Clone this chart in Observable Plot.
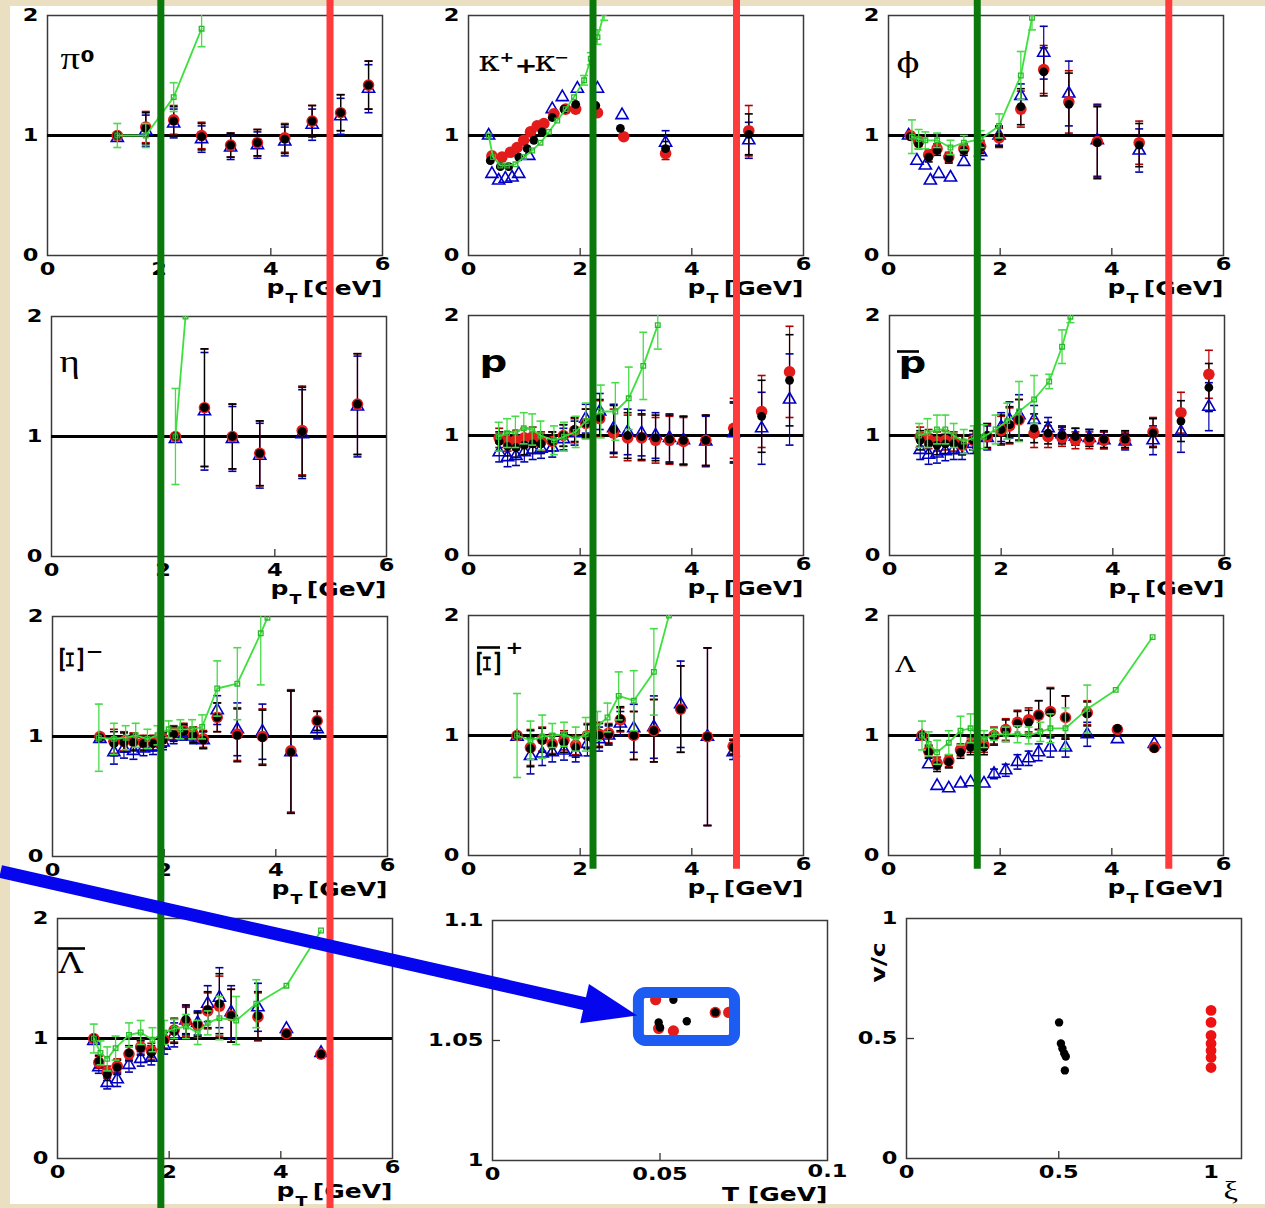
<!DOCTYPE html>
<html>
<head>
<meta charset="utf-8">
<script src="https://cdn.jsdelivr.net/npm/d3@7"></script>
<script src="https://cdn.jsdelivr.net/npm/@observablehq/plot@0.6"></script>
<style>
  html, body { margin: 0; padding: 0; background: #ebdfc1; }
  #page { position: relative; width: 1265px; height: 1208px; overflow: hidden; background: #ebdfc1; }
  #sheet { position: absolute; left: 10px; top: 6px; width: 1255px; height: 1198px; background: #fff; }
  #page svg { position: absolute; max-width: none; }
</style>
</head>
<body>
<div id="page"><div id="sheet"></div></div>
<script>
// ---------- π0 ----------
const pi0Pt = [1.25, 1.76, 2.26, 2.76, 3.28, 3.76, 4.25, 4.74, 5.25, 5.75];
const pi0Black = [1.0, 1.06, 1.12, 0.99, 0.92, 0.94, 0.97, 1.12, 1.19, 1.42];
const pi0Red = [1.0, 1.07, 1.13, 1.0, 0.92, 0.94, 0.98, 1.12, 1.19, 1.42];
const pi0Blue = [0.98, 1.04, 1.1, 0.97, 0.9, 0.92, 0.95, 1.09, 1.16, 1.39];
const pi0Err = [0.02, 0.13, 0.12, 0.11, 0.1, 0.11, 0.12, 0.13, 0.15, 0.2];
const pi0GreenPt = [1.25, 1.76, 2.26, 2.76];
const pi0Green = [1.0, 1.0, 1.32, 1.89];
const pi0GreenErr = [0.1, 0.1, 0.12, 0.15];

// ---------- K+ + K- ----------
const kaonBlackPt = [0.39, 0.57, 0.72, 0.9, 1.05, 1.17, 1.32, 1.5, 1.71, 1.92, 2.28, 2.72, 3.53, 5.02];
const kaonBlack = [0.79, 0.74, 0.74, 0.82, 0.89, 0.96, 1.03, 1.15, 1.22, 1.26, 1.25, 1.06, 0.89, 1.01];
const kaonBlackErr = [0.02, 0.02, 0.02, 0.02, 0.02, 0.02, 0.02, 0.02, 0.02, 0.02, 0.03, 0.03, 0.06, 0.17];
const kaonRedPt = [0.42, 0.6, 0.75, 0.87, 0.99, 1.11, 1.23, 1.35, 1.53, 1.74, 1.92, 2.31, 2.78, 3.53, 5.02];
const kaonRed = [0.83, 0.82, 0.86, 0.9, 0.96, 1.03, 1.08, 1.1, 1.18, 1.22, 1.22, 1.19, 0.99, 0.85, 1.04];
const kaonRedErr = [0.02, 0.02, 0.02, 0.02, 0.02, 0.02, 0.02, 0.02, 0.02, 0.02, 0.02, 0.03, 0.03, 0.05, 0.21];
const kaonBluePt = [0.36, 0.42, 0.54, 0.66, 0.78, 0.9, 1.08, 1.5, 1.68, 1.95, 2.31, 2.75, 3.53, 5.02];
const kaonBlue = [1.0, 0.68, 0.625, 0.64, 0.65, 0.68, 0.83, 1.22, 1.32, 1.39, 1.39, 1.17, 0.94, 0.96];
const kaonBlueErr = [0.02, 0.02, 0.02, 0.02, 0.02, 0.02, 0.02, 0.02, 0.02, 0.02, 0.02, 0.02, 0.1, 0.15];
const kaonGreenPt = [0.36, 0.44, 0.57, 0.69, 0.84, 0.99, 1.14, 1.29, 1.44, 1.59, 1.74, 1.89, 2.07, 2.19, 2.31, 2.43];
const kaonGreen = [1.0, 0.82, 0.75, 0.75, 0.76, 0.82, 0.875, 0.94, 1.03, 1.125, 1.22, 1.32, 1.46, 1.64, 1.82, 2.02];
const kaonGreenErr = [0.02, 0.02, 0.02, 0.02, 0.02, 0.02, 0.02, 0.02, 0.02, 0.03, 0.03, 0.03, 0.04, 0.05, 0.06, 0.06];

// ---------- phi ----------
const phiPt = [0.39, 0.54, 0.72, 0.87, 1.08, 1.35, 1.65, 1.98, 2.37, 2.78, 3.23, 3.74, 4.49];
const phiBlack = [0.99, 0.93, 0.82, 0.875, 0.81, 0.875, 0.9, 0.99, 1.24, 1.53, 1.26, 0.94, 0.92];
const phiRed = [1.0, 0.95, 0.84, 0.89, 0.82, 0.89, 0.91, 0.98, 1.22, 1.55, 1.28, 0.95, 0.94];
const phiErr = [0.03, 0.04, 0.04, 0.04, 0.04, 0.04, 0.05, 0.08, 0.15, 0.2, 0.26, 0.3, 0.18];
const phiBluePt = [0.36, 0.51, 0.66, 0.75, 0.9, 1.11, 1.35, 1.65, 1.98, 2.37, 2.78, 3.23, 3.74, 4.49];
const phiBlue = [1.0, 0.79, 0.75, 0.625, 0.68, 0.65, 0.78, 0.86, 1.0, 1.33, 1.69, 1.35, 0.96, 0.875];
const phiBlueErr = [0.02, 0.02, 0.02, 0.02, 0.02, 0.02, 0.03, 0.06, 0.08, 0.1, 0.22, 0.27, 0.3, 0.18];
const phiGreenPt = [0.42, 0.54, 0.66, 0.87, 1.11, 1.35, 1.65, 1.98, 2.37, 2.57];
const phiGreen = [0.99, 0.97, 0.96, 0.96, 0.9, 0.94, 0.97, 1.08, 1.5, 1.98];
const phiGreenErr = [0.14, 0.08, 0.07, 0.06, 0.06, 0.06, 0.07, 0.1, 0.2, 0.1];

// ---------- eta ----------
const etaPt = [2.22, 2.74, 3.24, 3.73, 4.49, 5.48];
const etaBlack = [1.0, 1.24, 1.0, 0.86, 1.04, 1.27];
const etaRed = [1.0, 1.24, 1.0, 0.86, 1.05, 1.27];
const etaBlue = [0.98, 1.21, 0.98, 0.84, 1.02, 1.25];
const etaErr = [0.02, 0.49, 0.27, 0.27, 0.37, 0.42];
const etaGreenPt = [2.22, 2.4];
const etaGreen = [1.0, 2.0];
const etaGreenErr = [0.4, 0];

// ---------- p ----------
const protPt = [0.55, 0.7, 0.85, 1.0, 1.15, 1.3, 1.5, 1.7, 1.9, 2.1, 2.35, 2.6, 2.85, 3.1, 3.35, 3.6, 3.85, 4.25, 4.75, 5.25, 5.75];
const protRed = [0.98, 0.95, 0.96, 0.98, 0.99, 0.95, 0.95, 1.0, 1.04, 1.1, 1.14, 1.02, 0.98, 0.98, 0.96, 0.96, 0.95, 0.96, 1.06, 1.2, 1.53];
const protBlack = [0.95, 0.91, 0.9, 0.92, 0.93, 0.93, 0.95, 1.0, 1.05, 1.1, 1.15, 1.05, 1.0, 0.99, 0.98, 0.97, 0.96, 0.96, 1.03, 1.16, 1.46];
const protBlue = [0.86, 0.82, 0.83, 0.86, 0.88, 0.89, 0.9, 0.97, 1.02, 1.14, 1.2, 1.06, 1.03, 1.02, 1.0, 0.98, 0.96, 0.95, 1.02, 1.06, 1.3];
const protErr = [0.08, 0.08, 0.08, 0.08, 0.08, 0.08, 0.08, 0.09, 0.1, 0.12, 0.15, 0.2, 0.19, 0.19, 0.19, 0.2, 0.2, 0.21, 0.25, 0.3, 0.38];
const protGreenPt = [0.54, 0.69, 0.84, 0.99, 1.14, 1.29, 1.53, 1.71, 1.92, 2.1, 2.37, 2.63, 2.87, 3.13, 3.39];
const protGreen = [0.99, 1.02, 1.03, 1.06, 1.05, 1.0, 0.96, 0.99, 1.03, 1.12, 1.2, 1.2, 1.31, 1.58, 1.92];
const protGreenErr = [0.12, 0.12, 0.13, 0.13, 0.13, 0.12, 0.12, 0.12, 0.13, 0.15, 0.22, 0.24, 0.26, 0.28, 0.2];

// ---------- anti-p ----------
const pbarPt = [0.55, 0.7, 0.85, 1.0, 1.15, 1.3, 1.5, 1.75, 2.0, 2.15, 2.32, 2.59, 2.84, 3.09, 3.33, 3.58, 3.84, 4.22, 4.72, 5.22, 5.72];
const pbarRed = [0.99, 0.97, 0.95, 0.96, 0.95, 0.92, 0.96, 0.99, 1.04, 1.08, 1.13, 1.02, 0.99, 0.98, 0.96, 0.96, 0.96, 0.96, 1.03, 1.19, 1.51];
const pbarBlack = [0.96, 0.93, 0.92, 0.93, 0.93, 0.92, 0.96, 1.0, 1.05, 1.09, 1.13, 1.06, 1.02, 1.0, 0.99, 0.98, 0.97, 0.97, 1.02, 1.12, 1.4];
const pbarBlue = [0.88, 0.84, 0.85, 0.87, 0.88, 0.88, 0.93, 0.98, 1.07, 1.13, 1.17, 1.13, 1.06, 1.01, 0.99, 0.98, 0.96, 0.95, 0.96, 1.03, 1.24];
const pbarErr = [0.08, 0.08, 0.08, 0.08, 0.08, 0.08, 0.08, 0.1, 0.12, 0.15, 0.17, 0.12, 0.09, 0.07, 0.07, 0.07, 0.07, 0.07, 0.12, 0.17, 0.2];
const pbarGreenPt = [0.53, 0.68, 0.85, 1.0, 1.15, 1.33, 1.51, 1.69, 1.9, 2.11, 2.32, 2.59, 2.86, 3.09, 3.24];
const pbarGreen = [1.0, 1.02, 1.05, 1.05, 1.0, 0.95, 0.98, 0.99, 1.05, 1.12, 1.2, 1.3, 1.45, 1.74, 1.99];
const pbarGreenErr = [0.1, 0.12, 0.12, 0.12, 0.1, 0.1, 0.1, 0.1, 0.12, 0.15, 0.25, 0.2, 0.06, 0.14, 0.05];

// ---------- Xi- ----------
const ximPt = [0.85, 1.1, 1.28, 1.45, 1.63, 1.8, 1.98, 2.17, 2.35, 2.52, 2.7, 2.95, 3.31, 3.76, 4.27, 4.74];
const ximBlack = [0.99, 0.94, 0.95, 0.95, 0.94, 0.94, 0.97, 1.02, 1.04, 1.01, 0.97, 1.16, 1.01, 0.99, 0.87, 1.13];
const ximRed = [1.0, 0.96, 0.96, 0.96, 0.95, 0.95, 0.98, 1.03, 1.05, 1.02, 0.98, 1.16, 1.02, 1.0, 0.88, 1.13];
const ximBlue = [0.98, 0.87, 0.9, 0.88, 0.9, 0.91, 0.95, 1.0, 1.03, 1.0, 0.97, 1.22, 1.06, 1.04, 0.87, 1.06];
const ximErr = [0.03, 0.1, 0.08, 0.07, 0.06, 0.06, 0.06, 0.06, 0.06, 0.06, 0.07, 0.12, 0.22, 0.23, 0.51, 0.08];
const ximGreenPt = [0.83, 1.1, 1.31, 1.49, 1.7, 1.88, 2.08, 2.29, 2.5, 2.68, 2.95, 3.31, 3.73, 3.85];
const ximGreen = [0.99, 0.98, 0.99, 1.01, 0.98, 1.01, 1.06, 1.06, 1.06, 1.08, 1.4, 1.44, 1.86, 1.99];
const ximGreenErr = [0.28, 0.13, 0.1, 0.1, 0.08, 0.08, 0.07, 0.08, 0.08, 0.1, 0.23, 0.3, 0.43, 0];

// ---------- anti-Xi+ ----------
const xipPt = [0.87, 1.11, 1.32, 1.5, 1.71, 1.92, 2.13, 2.34, 2.51, 2.72, 2.96, 3.32, 3.8, 4.28, 4.74];
const xipBlack = [1.0, 0.89, 0.96, 0.92, 0.94, 0.9, 0.99, 1.0, 1.01, 1.14, 1.0, 1.04, 1.22, 0.99, 0.9];
const xipRed = [1.0, 0.9, 0.97, 0.93, 0.96, 0.92, 1.0, 1.01, 1.02, 1.13, 1.0, 1.04, 1.22, 0.99, 0.91];
const xipBlue = [0.99, 0.83, 0.85, 0.86, 0.875, 0.86, 0.93, 0.97, 1.0, 1.1, 1.06, 1.07, 1.26, 0.99, 0.86];
const xipErr = [0.03, 0.15, 0.1, 0.08, 0.08, 0.08, 0.1, 0.1, 0.08, 0.1, 0.2, 0.26, 0.36, 0.74, 0.06];
const xipGreenPt = [0.87, 1.11, 1.32, 1.5, 1.71, 1.92, 2.1, 2.31, 2.49, 2.69, 2.96, 3.32, 3.59];
const xipGreen = [1.0, 0.96, 0.99, 1.0, 1.01, 0.97, 1.01, 1.08, 1.15, 1.33, 1.29, 1.53, 2.0];
const xipGreenErr = [0.35, 0.16, 0.18, 0.1, 0.1, 0.1, 0.14, 0.12, 0.12, 0.2, 0.25, 0.36, 0];

// ---------- Lambda ----------
const lamPt = [0.6, 0.72, 0.87, 1.08, 1.29, 1.47, 1.71, 1.89, 2.1, 2.31, 2.51, 2.69, 2.9, 3.17, 3.56, 4.1, 4.76];
const lamBlack = [1.0, 0.86, 0.75, 0.78, 0.86, 0.9, 0.9, 0.99, 1.04, 1.1, 1.11, 1.17, 1.19, 1.15, 1.18, 1.06, 0.89];
const lamRed = [1.0, 0.87, 0.77, 0.79, 0.88, 0.92, 0.92, 1.0, 1.05, 1.11, 1.13, 1.17, 1.2, 1.15, 1.19, 1.05, 0.9];
const lamBlue = [0.99, 0.76, 0.58, 0.56, 0.6, 0.61, 0.6, 0.68, 0.71, 0.78, 0.81, 0.86, 0.9, 0.9, 1.01, 0.97, 0.93];
const lamErr = [0.03, 0.05, 0.05, 0.05, 0.05, 0.06, 0.06, 0.07, 0.09, 0.1, 0.1, 0.12, 0.2, 0.18, 0.1, 0.02, 0.02];
const lamBlueErr = [0.02, 0.03, 0.03, 0.03, 0.03, 0.03, 0.03, 0.04, 0.05, 0.06, 0.06, 0.07, 0.08, 0.08, 0.1, 0.02, 0.02];
const lamGreenPt = [0.6, 0.72, 0.87, 1.08, 1.29, 1.47, 1.71, 1.89, 2.1, 2.31, 2.51, 2.72, 2.9, 3.17, 3.56, 4.07, 4.73];
const lamGreen = [1.0, 0.93, 0.86, 0.94, 1.04, 1.06, 0.97, 1.01, 1.01, 1.01, 1.0, 1.03, 1.06, 1.06, 1.22, 1.38, 1.82];
const lamGreenErr = [0.12, 0.1, 0.1, 0.1, 0.12, 0.12, 0.07, 0.05, 0.06, 0.07, 0.07, 0.08, 0.12, 0.17, 0.2, 0, 0];

// ---------- anti-Lambda ----------
const alamPt = [0.65, 0.74, 0.89, 1.07, 1.28, 1.49, 1.68, 1.91, 2.09, 2.3, 2.51, 2.69, 2.9, 3.11, 3.59, 4.1, 4.72];
const alamBlack = [1.0, 0.81, 0.7, 0.76, 0.88, 0.92, 0.88, 0.98, 1.06, 1.16, 1.12, 1.24, 1.29, 1.19, 1.19, 1.04, 0.87];
const alamRed = [1.0, 0.8, 0.72, 0.77, 0.87, 0.93, 0.9, 0.99, 1.07, 1.14, 1.11, 1.23, 1.27, 1.19, 1.18, 1.04, 0.87];
const alamBlue = [0.98, 0.76, 0.63, 0.66, 0.78, 0.83, 0.84, 0.94, 1.03, 1.15, 1.13, 1.29, 1.34, 1.22, 1.26, 1.08, 0.88];
const alamErr = [0.03, 0.05, 0.05, 0.06, 0.06, 0.06, 0.06, 0.07, 0.1, 0.12, 0.1, 0.15, 0.25, 0.22, 0.2, 0.02, 0.02];
const alamGreenPt = [0.65, 0.77, 0.89, 1.04, 1.28, 1.49, 1.7, 1.91, 2.09, 2.3, 2.51, 2.69, 2.9, 3.2, 3.56, 4.1, 4.72];
const alamGreen = [1.0, 0.88, 0.83, 0.92, 1.03, 1.05, 0.99, 1.05, 1.08, 1.1, 1.05, 1.13, 1.17, 1.15, 1.29, 1.44, 1.9];
const alamGreenErr = [0.12, 0.1, 0.1, 0.1, 0.1, 0.1, 0.1, 0.1, 0.08, 0.1, 0.1, 0.1, 0.18, 0.2, 0.2, 0, 0];

// ---------- freeze-out temperature vs normalisation ----------
const tempBlackT = [0.054, 0.0496, 0.05, 0.058, 0.0665];
const tempBlackY = [1.067, 1.0575, 1.0554, 1.058, 1.0617];
const tempRedT = [0.0487, 0.0496, 0.054, 0.0665, 0.0705];
const tempRedY = [1.067, 1.055, 1.054, 1.0617, 1.0617];
const focusT = [0.0437, 0.0724];
const focusY = [1.0498, 1.0698];

// ---------- flow velocity vs xi ----------
const flowBlackXi = [0.501, 0.507, 0.512, 0.518, 0.523, 0.52];
const flowBlackV = [0.567, 0.479, 0.458, 0.438, 0.425, 0.367];
const flowRedXi = [1, 1, 1, 1, 1, 1, 1];
const flowRedV = [0.617, 0.567, 0.513, 0.479, 0.45, 0.421, 0.379];

// ---------- cut markers (pT in the top-row panels) ----------
const greenCutPt = [2.03, 2.23, 1.59];
const redCutPt = [5.06, 4.8, 5.02];

// ================= drawing =================
const page = document.getElementById("page");
const FW = 335, FH = 240;             // frame size of every panel
const ML = 50, MT = 20, MR = 45, MB = 62;
const SANS = "DejaVu Sans", SERIF = "DejaVu Serif", TIMES = "Liberation Serif";
const STRETCH = 1.25;                 // wide lettering of axis numbers and titles
const TITLE = "panel title";

const cap = {draw(ctx) { ctx.moveTo(-4, 0); ctx.lineTo(4, 0); }};
const rows = (pt, v, e) => pt.map((x, i) => ({x, y: v[i], e: e ? e[i] : 0}));

function errorBars(data, color, w = 1.2) {
  const d = data.filter(r => r.e >= 0.035);
  return [
    Plot.ruleX(d, {x: "x", y1: r => r.y - r.e, y2: r => r.y + r.e, stroke: color, strokeWidth: w, clip: true}),
    Plot.dot(d, {x: "x", y: r => r.y - r.e, symbol: cap, fill: "none", stroke: color, strokeWidth: 1.6, clip: true}),
    Plot.dot(d, {x: "x", y: r => r.y + r.e, symbol: cap, fill: "none", stroke: color, strokeWidth: 1.6, clip: true})
  ];
}

// title pieces are text; a bar over a symbol (anti-particle) is a short rule
function label(parts, cfg) {
  const [x0, x1] = cfg.x, [y0, y1] = cfg.y;
  return parts.map(p => p.bar
    ? Plot.ruleY([y1 - p.dy * (y1 - y0) / FH], {
        x1: x0 + p.dx * (x1 - x0) / FW, x2: x0 + (p.dx + p.w) * (x1 - x0) / FW,
        stroke: "black", strokeWidth: 2.6
      })
    : Plot.text([p.t], {
        text: d => d,
        frameAnchor: p.anchor || "top-left",
        dx: p.dx, dy: p.dy,
        textAnchor: p.ta || "start",
        lineAnchor: p.la || "bottom",
        fontSize: p.fs, fontFamily: p.ff || SANS, fontWeight: p.fw || "normal",
        rotate: p.rot || 0, fill: "black",
        ariaLabel: p.title ? TITLE : "axis label"
      }));
}

const ptLabel = [
  {t: "p", anchor: "bottom-right", dx: -116, dy: 38, fs: 20, fw: "bold"},
  {t: "T", anchor: "bottom-right", dx: -97, dy: 47, fs: 14, fw: "bold"},
  {t: "[GeV]", anchor: "bottom-right", ta: "end", dx: 0, dy: 39, fs: 20, fw: "bold"}
];

const ptPanel = (frame, black, red, blue, green, title) => ({
  frame, x: [0, 6], y: [0, 2], ref: 1, xTicks: [0, 2, 4], xLast: 6, xLastDy: -5, yTicks: [0, 1, 2],
  inX: [2, 4], series: {black, red, blue, green},
  labels: [...title.map(t => ({...t, title: true})), ...ptLabel]
});

const panels = [
  ptPanel([47, 15], rows(pi0Pt, pi0Black, pi0Err), rows(pi0Pt, pi0Red, pi0Err), rows(pi0Pt, pi0Blue, pi0Err),
    rows(pi0GreenPt, pi0Green, pi0GreenErr),
    [{t: "π", dx: 13, dy: 53, fs: 31, ff: TIMES}, {t: "0", dx: 33, dy: 46, fs: 16, fw: "bold"}]),
  ptPanel([468, 15], rows(kaonBlackPt, kaonBlack, kaonBlackErr), rows(kaonRedPt, kaonRed, kaonRedErr),
    rows(kaonBluePt, kaonBlue, kaonBlueErr), rows(kaonGreenPt, kaonGreen, kaonGreenErr),
    [{t: "κ", dx: 10, dy: 55, fs: 27, ff: SERIF}, {t: "+", dx: 31, dy: 46, fs: 14, fw: "bold"},
     {t: "+", dx: 46, dy: 57, fs: 22, fw: "bold"}, {t: "κ", dx: 66, dy: 55, fs: 27, ff: SERIF},
     {t: "−", dx: 86, dy: 46, fs: 14, fw: "bold"}]),
  ptPanel([888, 15], rows(phiPt, phiBlack, phiErr), rows(phiPt, phiRed, phiErr), rows(phiBluePt, phiBlue, phiBlueErr),
    rows(phiGreenPt, phiGreen, phiGreenErr),
    [{t: "ϕ", dx: 8, dy: 56, fs: 27, ff: SERIF}]),
  ptPanel([51, 316], rows(etaPt, etaBlack, etaErr), rows(etaPt, etaRed, etaErr), rows(etaPt, etaBlue, etaErr),
    rows(etaGreenPt, etaGreen, etaGreenErr),
    [{t: "η", dx: 8, dy: 55, fs: 31, ff: TIMES}]),
  ptPanel([468, 315], rows(protPt, protBlack, protErr), rows(protPt, protRed, protErr), rows(protPt, protBlue, protErr),
    rows(protGreenPt, protGreen, protGreenErr),
    [{t: "p", dx: 11, dy: 56, fs: 31, fw: "bold"}]),
  ptPanel([889, 315], rows(pbarPt, pbarBlack, pbarErr), rows(pbarPt, pbarRed, pbarErr), rows(pbarPt, pbarBlue, pbarErr),
    rows(pbarGreenPt, pbarGreen, pbarGreenErr),
    [{t: "p", dx: 9, dy: 57, fs: 31, fw: "bold"}, {bar: true, dx: 8, dy: 36, w: 22}]),
  ptPanel([52, 616], rows(ximPt, ximBlack, ximErr), rows(ximPt, ximRed, ximErr), rows(ximPt, ximBlue, ximErr),
    rows(ximGreenPt, ximGreen, ximGreenErr),
    [{t: "Ξ", dx: 20, dy: 43, fs: 32, ff: SERIF, rot: -90, ta: "middle", la: "middle"},
     {t: "−", dx: 33, dy: 40, fs: 17, fw: "bold"}]),
  ptPanel([468, 615], rows(xipPt, xipBlack, xipErr), rows(xipPt, xipRed, xipErr), rows(xipPt, xipBlue, xipErr),
    rows(xipGreenPt, xipGreen, xipGreenErr),
    [{t: "Ξ", dx: 21, dy: 48, fs: 32, ff: SERIF, rot: -90, ta: "middle", la: "middle"},
     {bar: true, dx: 9, dy: 32, w: 23}, {t: "+", dx: 37, dy: 38, fs: 17, fw: "bold"}]),
  ptPanel([888, 615], rows(lamPt, lamBlack, lamErr), rows(lamPt, lamRed, lamErr), rows(lamPt, lamBlue, lamBlueErr),
    rows(lamGreenPt, lamGreen, lamGreenErr),
    [{t: "Λ", dx: 7, dy: 56, fs: 22, ff: SERIF}]),
  ptPanel([57, 918], rows(alamPt, alamBlack, alamErr), rows(alamPt, alamRed, alamErr), rows(alamPt, alamBlue, alamErr),
    rows(alamGreenPt, alamGreen, alamGreenErr),
    [{t: "Λ", dx: 1, dy: 54, fs: 27, ff: SERIF}, {bar: true, dx: 1, dy: 30, w: 27}]),
  {
    frame: [492, 920], x: [0, 0.1], y: [1, 1.1], xTicks: [0, 0.05], xLast: 0.1, xLastDy: -3, yTicks: [1, 1.05, 1.1],
    inX: [0.05], inY: [1.05],
    scatter: [
      {data: rows(tempRedT, tempRedY), r: 5.6, fill: "#e31b1b"},
      {data: rows(tempBlackT, tempBlackY), r: 4.2, fill: "#000"}
    ],
    extra: [Plot.rect([{x1: focusT[0], x2: focusT[1], y1: focusY[0], y2: focusY[1]}],
      {x1: "x1", x2: "x2", y1: "y1", y2: "y2", fill: "none", stroke: "#1d5cf2", strokeWidth: 11, rx: 7})],
    labels: [{t: "T [GeV]", anchor: "bottom-right", ta: "end", dx: 0, dy: 40, fs: 20, fw: "bold"}]
  },
  {
    frame: [906, 918], x: [0, 1.1], y: [0, 1], xTicks: [0, 0.5, 1], yTicks: [0, 0.5, 1],
    inX: [0.5], inY: [0.5],
    scatter: [
      {data: rows(flowBlackXi, flowBlackV), r: 4.2, fill: "#000"},
      {data: rows(flowRedXi, flowRedV), r: 5.4, fill: "#ee1111"}
    ],
    labels: [
      {t: "v/c", dx: -28, dy: 44, fs: 20, fw: "bold", rot: -90, ta: "middle", la: "middle"},
      {t: "ξ", anchor: "bottom-left", dx: 317, dy: 40, fs: 26, ff: TIMES, title: true}
    ]
  }
];

// widen every non-title text horizontally about its anchor point
function stretchText(svg, k) {
  svg.querySelectorAll("text").forEach(t => {
    if (t.closest(`[aria-label="${TITLE}"]`)) return;
    const tr = t.getAttribute("transform");
    if (tr) t.setAttribute("transform", `${tr} scale(${k},1)`);
    else {
      const x = +t.getAttribute("x") || 0, y = +t.getAttribute("y") || 0;
      t.removeAttribute("x"); t.removeAttribute("y");
      t.setAttribute("transform", `translate(${x},${y}) scale(${k},1)`);
    }
  });
}

function makePanel(cfg) {
  const [x0, x1] = cfg.x, [y0, y1] = cfg.y;
  const fmt = d => String(d);
  const m = [Plot.frame({stroke: "#3a3a3a", strokeWidth: 1.5})];
  if (cfg.ref) m.push(Plot.ruleY([cfg.ref], {stroke: "black", strokeWidth: 3}));
  if (cfg.inX) m.push(Plot.ruleX(cfg.inX, {y1: y0, y2: y0 + 7 * (y1 - y0) / FH, stroke: "#333", strokeWidth: 1.3}));
  if (cfg.inY) m.push(Plot.ruleY(cfg.inY, {x1: x0, x2: x0 + 8 * (x1 - x0) / FW, stroke: "#333", strokeWidth: 1.3}));
  const s = cfg.series;
  if (s) {
    m.push(...errorBars(s.blue, "#0000a8"), ...errorBars(s.red, "#b00000"), ...errorBars(s.black, "#000"));
    m.push(Plot.dot(s.blue, {x: "x", y: "y", symbol: "triangle", r: 4.5, stroke: "#0000c8", strokeWidth: 1.6, fill: "none", clip: true}));
    m.push(Plot.dot(s.red, {x: "x", y: "y", r: 5.8, fill: "#e31b1b", clip: true}));
    m.push(Plot.dot(s.black, {x: "x", y: "y", r: 4.4, fill: "#000", clip: true}));
    m.push(...errorBars(s.green, "#48dc48", 1.3));
    m.push(Plot.line(s.green, {x: "x", y: "y", stroke: "#3ee03e", strokeWidth: 1.8, clip: true}));
    m.push(Plot.dot(s.green, {x: "x", y: "y", symbol: "square", r: 2.6, stroke: "#2cb82c", strokeWidth: 1.3, fill: "none", clip: true}));
  }
  if (cfg.scatter) for (const sc of cfg.scatter) m.push(Plot.dot(sc.data, {x: "x", y: "y", r: sc.r, fill: sc.fill}));
  if (cfg.extra) m.push(...cfg.extra);
  const axisText = {fontSize: 18, fontWeight: "bold", fontFamily: SANS, label: null, tickFormat: fmt, tickSize: 0};
  m.push(Plot.axisY(cfg.yTicks, {...axisText, tickPadding: 9}));
  m.push(Plot.axisX(cfg.xTicks, {...axisText, tickPadding: 7}));
  if (cfg.xLast !== undefined) m.push(Plot.axisX([cfg.xLast], {...axisText, tickPadding: 7, dy: cfg.xLastDy || 0}));
  m.push(...label(cfg.labels, cfg));
  const plot = Plot.plot({
    width: ML + FW + MR, height: MT + FH + MB,
    marginLeft: ML, marginTop: MT, marginRight: MR, marginBottom: MB,
    x: {domain: cfg.x}, y: {domain: cfg.y},
    style: {background: "transparent", overflow: "visible", fontFamily: SANS},
    marks: m
  });
  stretchText(plot, STRETCH);
  plot.style.left = (cfg.frame[0] - ML) + "px";
  plot.style.top = (cfg.frame[1] - MT) + "px";
  page.appendChild(plot);
  return plot;
}

const plots = panels.map(makePanel);

// position of a data point of panel i on the page
function pagePoint(i, x, y) {
  const p = plots[i], [fx, fy] = panels[i].frame;
  return [fx - ML + p.scale("x").apply(x), fy - MT + p.scale("y").apply(y)];
}

// vertical cut markers: column 1 runs to the bottom of the page, columns 2-3 stop under row 3
const cutEnds = [[9, -0.45], [7, -0.115], [8, -0.115]];
const cutLines = (pts) => pts.map((pt, c) => {
  const [x, ya] = pagePoint(c, pt, 2.125);
  const [, yb] = pagePoint(cutEnds[c][0], 0, cutEnds[c][1]);
  return {x, y1: ya, y2: yb};
});
const greenLines = cutLines(greenCutPt);
const redLines = cutLines(redCutPt);

// pointer from the Xi- panel to the highlighted points of the temperature panel
const [ax, ay] = pagePoint(6, -0.93, -0.125);
const [tx, ty] = pagePoint(10, focusT[0] - 0.0005, 1.0604);
const len = Math.hypot(tx - ax, ty - ay);
const ux = (tx - ax) / len, uy = (ty - ay) / len;
const headLen = 54, headHalf = 20;
const bx = tx - ux * headLen, by = ty - uy * headLen;
const shaft = [{x1: ax, y1: ay, x2: bx + ux * 2, y2: by + uy * 2}];
const head = [
  {x: tx, y: ty},
  {x: bx - uy * headHalf, y: by + ux * headHalf},
  {x: bx + uy * headHalf, y: by - ux * headHalf}
];

const overlay = Plot.plot({
  width: 1265, height: 1208, margin: 0,
  x: {type: "identity", axis: null}, y: {type: "identity", axis: null},
  style: {background: "transparent", pointerEvents: "none"},
  marks: [
    Plot.ruleX(greenLines, {x: "x", y1: "y1", y2: "y2", stroke: "#0b780b", strokeWidth: 7}),
    Plot.ruleX(redLines, {x: "x", y1: "y1", y2: "y2", stroke: "#ff3b3b", strokeWidth: 7}),
    Plot.link(shaft, {x1: "x1", y1: "y1", x2: "x2", y2: "y2", stroke: "#0505ee", strokeWidth: 13}),
    Plot.line(head, {x: "x", y: "y", fill: "#0505ee", stroke: "none", curve: "linear-closed"})
  ]
});
overlay.style.left = "0px";
overlay.style.top = "0px";
page.appendChild(overlay);
</script>
</body>
</html>
